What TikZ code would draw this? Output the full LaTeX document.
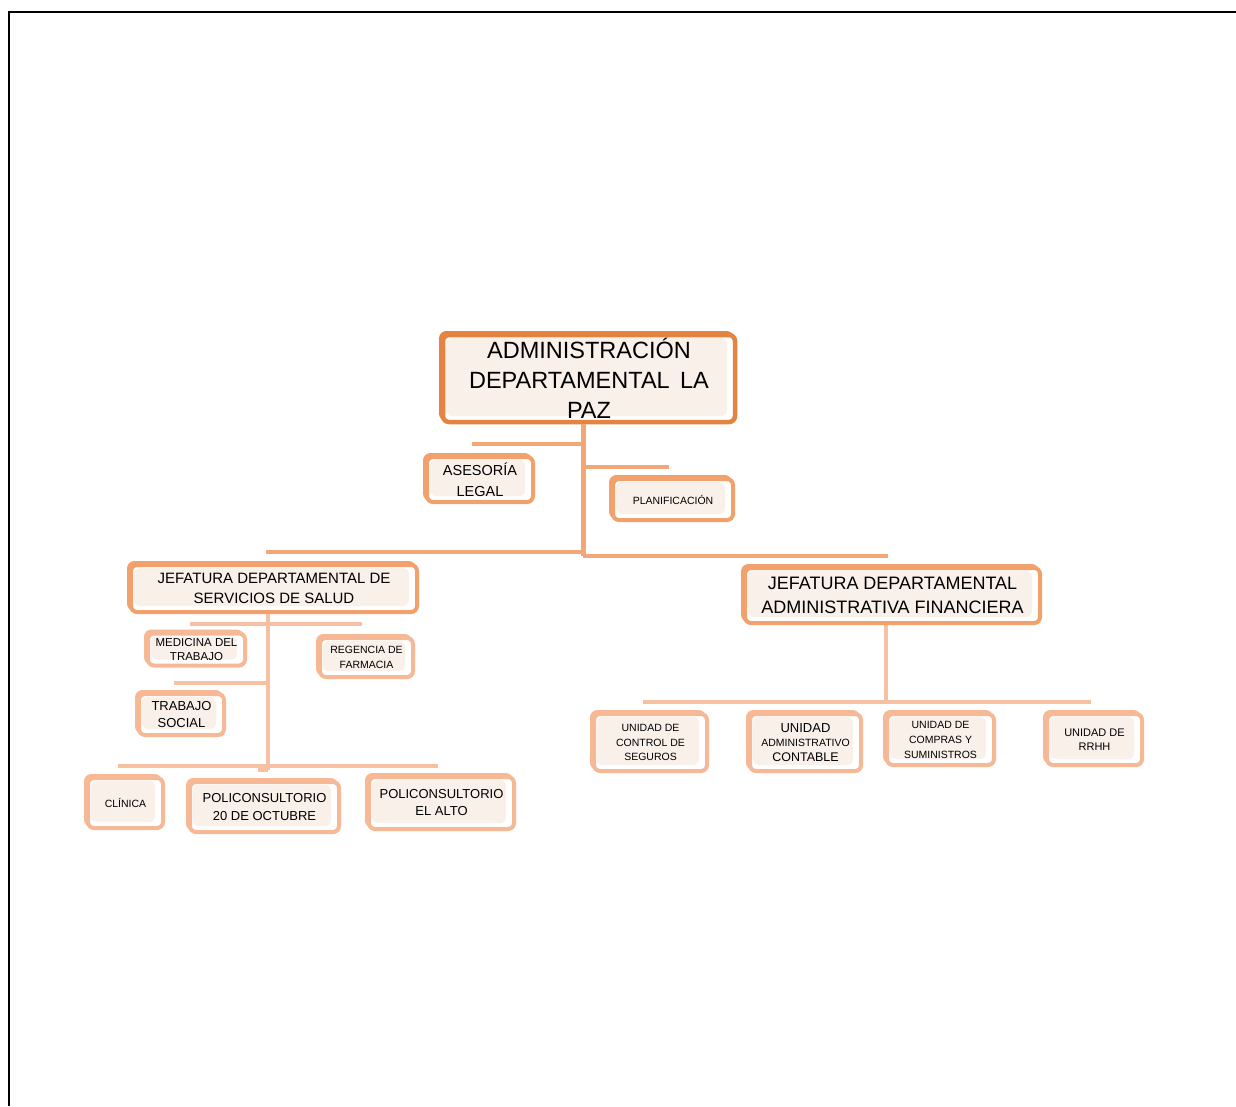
\documentclass[tikz,border=0pt]{standalone}
\usepackage{fontspec}
\setmainfont{Liberation Sans}
\usetikzlibrary{shadows}
\definecolor{cdark}{RGB}{229,132,64}
\definecolor{cmid}{RGB}{242,160,108}
\definecolor{clight}{RGB}{247,184,150}
\definecolor{ltrunk}{RGB}{243,166,118}
\definecolor{llight}{RGB}{247,192,163}
\definecolor{cream}{RGB}{250,240,234}
\newcommand{\fs}[2]{\fontsize{#1}{#2}\selectfont}
\begin{document}
\begin{tikzpicture}[x=1pt,y=-1pt,
  orgbox/.style={draw=#1, line width=4pt, rounded corners=6pt, fill=white,
    inner sep=0pt, align=center, text=black,
    general shadow={draw=#1, fill=#1, line width=3pt, shadow xshift=-2.5pt, shadow yshift=2.5pt},
    path picture={\fill[cream] ([xshift=3pt,yshift=-3pt]path picture bounding box.north west)
      rectangle ([xshift=-8pt,yshift=6pt]path picture bounding box.south east);}},
  conn/.style={draw=ltrunk, line width=4.5pt},
  connl/.style={draw=llight, line width=4pt}]
\useasboundingbox (0,0) rectangle (1236,1106);
\fill[white] (0,0) rectangle (1236,1106);
% frame
\draw[line width=1.6pt, black] (9,1106) -- (9,12) -- (1236,12);

% nodes
\node[orgbox=cdark, line width=4.5pt, minimum width=292pt, minimum height=87pt, font=\fs{23.5}{30}] (main) at (589,378.5) {ADMINISTRACIÓN\\DEPARTAMENTAL\ \,LA\\PAZ};
\node[orgbox=cmid, minimum width=106pt, minimum height=45pt, font=\fs{14.5}{21}] (ase) at (480,479.5) {ASESORÍA\\LEGAL};
\node[orgbox=cmid, minimum width=120pt, minimum height=41pt, font=\fs{10.5}{13}] (plan) at (673,499.5) {PLANIFICACIÓN};
\node[orgbox=cmid, minimum width=286pt, minimum height=47pt, font=\fs{15}{20}] (salud) at (274,588.5) {JEFATURA DEPARTAMENTAL DE\\SERVICIOS DE SALUD};
\node[orgbox=cmid, minimum width=295pt, minimum height=55pt, font=\fs{18}{24}] (admin) at (892.5,595.5) {JEFATURA DEPARTAMENTAL\\ADMINISTRATIVA FINANCIERA};

\node[orgbox=clight, minimum width=97pt, minimum height=32pt, font=\fs{11.5}{14}] (med) at (196.5,649.5) {MEDICINA DEL\\TRABAJO};
\node[orgbox=clight, minimum width=93pt, minimum height=39pt, font=\fs{10.5}{15}] (reg) at (366.5,657.5) {REGENCIA DE\\FARMACIA};
\node[orgbox=clight, minimum width=85pt, minimum height=41pt, font=\fs{13}{17}] (tsoc) at (181.5,714.5) {TRABAJO\\SOCIAL};
\node[orgbox=clight, minimum width=75pt, minimum height=50pt, font=\fs{10.5}{13}] (clin) at (125.5,803) {CLÍNICA};
\node[orgbox=clight, minimum width=149pt, minimum height=50pt, font=\fs{13}{18}] (poli20) at (264.5,807) {POLICONSULTORIO\\20 DE OCTUBRE};
\node[orgbox=clight, minimum width=145pt, minimum height=52pt, font=\fs{13}{17}] (polialto) at (441.5,803) {POLICONSULTORIO\\EL ALTO};

\node[orgbox=clight, minimum width=113pt, minimum height=57pt, font=\fs{10.5}{14.5}] (seg) at (650.5,742.5) {UNIDAD DE\\CONTROL DE\\SEGUROS};
\node[orgbox=clight, minimum width=111pt, minimum height=57pt, font=\fs{10.5}{14.5}] (cont) at (805.5,742.5) {{\fs{13}{14.5}UNIDAD}\\ADMINISTRATIVO\\{\fs{12.5}{14.5}CONTABLE}};
\node[orgbox=clight, minimum width=107pt, minimum height=51pt, font=\fs{10.5}{15}] (comp) at (940.5,739.5) {UNIDAD DE\\COMPRAS Y\\SUMINISTROS};
\node[orgbox=clight, minimum width=95pt, minimum height=51pt, font=\fs{11}{14}] (rrhh) at (1094.5,739.5) {UNIDAD DE\\RRHH};

% junction coordinates
\coordinate (jt) at (583,556);
\coordinate (ja1) at (472,444);
\coordinate (ja2) at (583,444);
\coordinate (jp1) at (583,467);
\coordinate (jp2) at (669,467);
\coordinate (jl) at (266,552);
\coordinate (jl2) at (583,552);
\coordinate (jr) at (888,556);
\coordinate (js) at (268,770);
\coordinate (jm1) at (190,624);
\coordinate (jm2) at (362,624);
\coordinate (jt1) at (174,683);
\coordinate (jt2) at (268,683);
\coordinate (jb1) at (118,766);
\coordinate (jb2) at (438,766);
\coordinate (jf1) at (258,770);
\coordinate (jd) at (886,702);
\coordinate (jd1) at (643,702);
\coordinate (jd2) at (1091,702);

% connectors
\draw[conn, line width=5pt] (main.south -| jt) -- (jt);
\draw[conn] (ja1) -- (ja2);
\draw[conn] (jp1) -- (jp2);
\draw[conn] (jl) -- (jl2);
\draw[conn] (jt) -- (jr);
\draw[connl] (salud.south -| js) -- (js);
\draw[connl] (jm1) -- (jm2);
\draw[connl] (jt1) -- (jt2);
\draw[connl] (jb1) -- (jb2);
\draw[connl] (jf1) -- (js);
\draw[connl] (admin.south -| jd) -- (jd);
\draw[connl] (jd1) -- (jd2);
\end{tikzpicture}
\end{document}
